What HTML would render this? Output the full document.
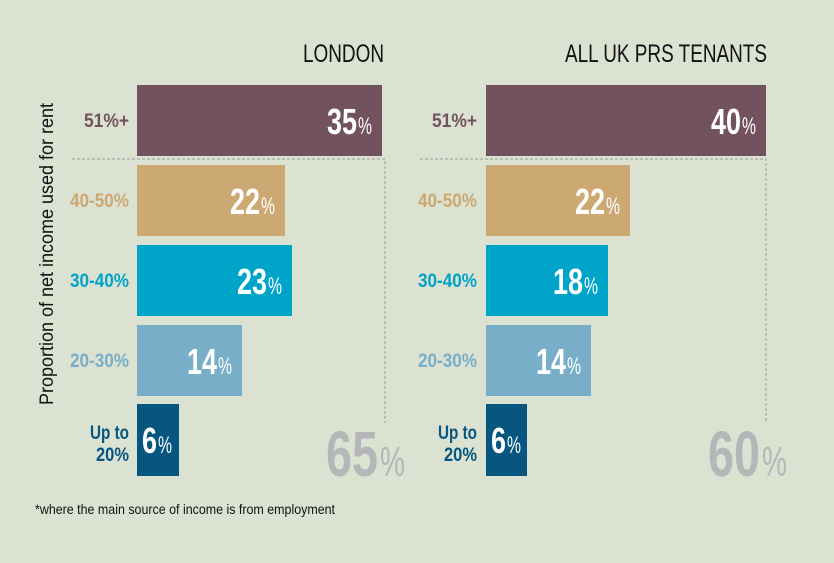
<!DOCTYPE html>
<html><head><meta charset="utf-8"><style>
html,body{margin:0;padding:0;background:#dbe2d2;}
svg{display:block;font-family:"Liberation Sans",sans-serif;}
</style></head><body>
<svg width="834" height="563" viewBox="0 0 834 563" xmlns="http://www.w3.org/2000/svg">
<rect width="834" height="563" fill="#dbe2d2"/>
<text x="384" y="62" font-size="25" text-anchor="end" textLength="81" lengthAdjust="spacingAndGlyphs" fill="#111">LONDON</text>
<text x="767" y="62" font-size="25" text-anchor="end" textLength="202" lengthAdjust="spacingAndGlyphs" fill="#111">ALL UK PRS TENANTS</text>
<text transform="translate(53,254) rotate(-90)" font-size="19" text-anchor="middle" textLength="302" lengthAdjust="spacingAndGlyphs" fill="#111">Proportion of net income used for rent</text>
<g stroke="#9a9e98" stroke-width="1" stroke-dasharray="3,2" fill="none">
<path d="M72 159H385V423"/>
<path d="M420 159H766V422"/>
</g>
<g font-weight="bold" font-size="19" text-anchor="end">
<text x="129" y="127" fill="#735260" textLength="45" lengthAdjust="spacingAndGlyphs">51%+</text>
<text x="129" y="207" fill="#cca873" textLength="59" lengthAdjust="spacingAndGlyphs">40-50%</text>
<text x="129" y="287" fill="#00a4c8" textLength="59" lengthAdjust="spacingAndGlyphs">30-40%</text>
<text x="129" y="367" fill="#79aec8" textLength="59" lengthAdjust="spacingAndGlyphs">20-30%</text>
<text x="129" y="439" fill="#075680" textLength="39" lengthAdjust="spacingAndGlyphs">Up to</text>
<text x="129" y="461" fill="#075680" textLength="33" lengthAdjust="spacingAndGlyphs">20%</text>
<text x="477" y="127" fill="#735260" textLength="45" lengthAdjust="spacingAndGlyphs">51%+</text>
<text x="477" y="207" fill="#cca873" textLength="59" lengthAdjust="spacingAndGlyphs">40-50%</text>
<text x="477" y="287" fill="#00a4c8" textLength="59" lengthAdjust="spacingAndGlyphs">30-40%</text>
<text x="477" y="367" fill="#79aec8" textLength="59" lengthAdjust="spacingAndGlyphs">20-30%</text>
<text x="477" y="439" fill="#075680" textLength="39" lengthAdjust="spacingAndGlyphs">Up to</text>
<text x="477" y="461" fill="#075680" textLength="33" lengthAdjust="spacingAndGlyphs">20%</text>
</g>
<rect x="137" y="85" width="245" height="71" fill="#735260"/>
<rect x="137" y="165" width="148" height="71" fill="#cca873"/>
<rect x="137" y="245" width="155" height="71" fill="#00a4c8"/>
<rect x="137" y="325" width="105" height="71" fill="#79aec8"/>
<rect x="137" y="404" width="42" height="72" fill="#075680"/>
<rect x="486" y="85" width="280" height="71" fill="#735260"/>
<rect x="486" y="165" width="144" height="71" fill="#cca873"/>
<rect x="486" y="245" width="122" height="71" fill="#00a4c8"/>
<rect x="486" y="325" width="105" height="71" fill="#79aec8"/>
<rect x="486" y="404" width="41" height="72" fill="#075680"/>
<g fill="#fff">
<g font-weight="bold" font-size="36" text-anchor="end">
<text x="357" y="134" textLength="30" lengthAdjust="spacingAndGlyphs">35</text>
<text x="260" y="214" textLength="30" lengthAdjust="spacingAndGlyphs">22</text>
<text x="267" y="294" textLength="30" lengthAdjust="spacingAndGlyphs">23</text>
<text x="217" y="374" textLength="30" lengthAdjust="spacingAndGlyphs">14</text>
<text x="157" y="453" textLength="15" lengthAdjust="spacingAndGlyphs">6</text>
<text x="741" y="134" textLength="30" lengthAdjust="spacingAndGlyphs">40</text>
<text x="605" y="214" textLength="30" lengthAdjust="spacingAndGlyphs">22</text>
<text x="583" y="294" textLength="30" lengthAdjust="spacingAndGlyphs">18</text>
<text x="566" y="374" textLength="30" lengthAdjust="spacingAndGlyphs">14</text>
<text x="506" y="453" textLength="15" lengthAdjust="spacingAndGlyphs">6</text>
</g>
<g font-size="24">
<text x="358" y="134" textLength="14" lengthAdjust="spacingAndGlyphs">%</text>
<text x="261" y="214" textLength="14" lengthAdjust="spacingAndGlyphs">%</text>
<text x="268" y="294" textLength="14" lengthAdjust="spacingAndGlyphs">%</text>
<text x="218" y="374" textLength="14" lengthAdjust="spacingAndGlyphs">%</text>
<text x="158" y="453" textLength="14" lengthAdjust="spacingAndGlyphs">%</text>
<text x="742" y="134" textLength="14" lengthAdjust="spacingAndGlyphs">%</text>
<text x="606" y="214" textLength="14" lengthAdjust="spacingAndGlyphs">%</text>
<text x="584" y="294" textLength="14" lengthAdjust="spacingAndGlyphs">%</text>
<text x="567" y="374" textLength="14" lengthAdjust="spacingAndGlyphs">%</text>
<text x="507" y="453" textLength="14" lengthAdjust="spacingAndGlyphs">%</text>
</g>
</g>
<g fill="#b4b6b8">
<text x="378" y="476" font-size="64" font-weight="bold" text-anchor="end" textLength="52" lengthAdjust="spacingAndGlyphs">65</text>
<text x="380" y="476" font-size="42" textLength="25" lengthAdjust="spacingAndGlyphs">%</text>
<text x="760" y="476" font-size="64" font-weight="bold" text-anchor="end" textLength="52" lengthAdjust="spacingAndGlyphs">60</text>
<text x="762" y="476" font-size="42" textLength="25" lengthAdjust="spacingAndGlyphs">%</text>
</g>
<text x="35" y="514" font-size="14" fill="#111" textLength="300" lengthAdjust="spacingAndGlyphs">*where the main source of income is from employment</text>
</svg>
</body></html>
